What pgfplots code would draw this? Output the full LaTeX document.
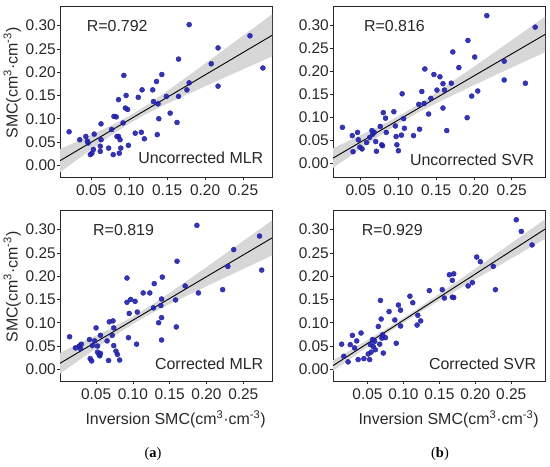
\documentclass[border=0pt]{standalone}
\usepackage{fontspec}
\setmainfont{Liberation Sans}
\newfontfamily\seriffont{Liberation Serif}
\usepackage{pgfplots}
\pgfplotsset{compat=1.18}
\definecolor{ptblue}{RGB}{32,32,170}
\definecolor{bandgray}{RGB}{215,215,215}
\definecolor{txt}{RGB}{40,40,40}
\pgfplotsset{panel/.style={
  scale only axis, width=212bp, height=171bp,
  ymin=-0.025, ymax=0.342,
  xtick={0.05,0.10,0.15,0.20,0.25}, ytick={0,0.05,0.10,0.15,0.20,0.25,0.30},
  tick pos=left, tick align=outside, major tick length=3bp,
  axis line style={draw=txt, line width=0.8bp},
  tick style={draw=txt, line width=0.6bp},
  ticklabel style={font=\fontsize{15.5}{15.5}\selectfont, text=txt},
  /pgf/number format/fixed, /pgf/number format/fixed zerofill,
  /pgf/number format/precision=2, /pgf/number format/assume math mode=true,
  yticklabel style={inner xsep=1bp},
  xticklabel style={inner ysep=2bp, yshift=-3bp},
  label style={font=\fontsize{16}{16}\selectfont, text=txt},
  ylabel style={at={(axis description cs:-0.225,0.55)}, anchor=center},
  xlabel style={at={(axis description cs:0.545,-0.222)}, anchor=center},
  clip=true,
}}
\newcommand{\unitlab}{(cm\textsuperscript{3}·cm\textsuperscript{-3})}
\begin{document}
\begin{tikzpicture}[x=1bp,y=1bp]
\useasboundingbox (0,0) rectangle (550,467);
% ---------------- Panel 1: Uncorrected MLR
\begin{axis}[panel, at={(60bp,290bp)}, anchor=south west, xmin=0.009, xmax=0.288,
  ylabel={SMC\unitlab}]
\addplot[fill=bandgray, draw=none] coordinates {
(0,0.0280)(0.05,0.0651)(0.075,0.0844)(0.10,0.1058)(0.125,0.1312)(0.15,0.1594)(0.20,0.2185)(0.25,0.2784)(0.30,0.3386)
(0.30,0.2424)(0.25,0.2062)(0.20,0.1697)(0.15,0.1324)(0.125,0.1124)(0.10,0.0896)(0.075,0.0628)(0.05,0.0339)(0,-0.0254)} -- cycle;
\addplot[black, line width=0.9bp] coordinates {(0,0.0013)(0.30,0.2905)};
\addplot[only marks, mark=*, mark size=2.5bp, color=ptblue, fill opacity=0.9] coordinates {
(0.021,0.072)(0.035,0.055)(0.043,0.062)(0.045,0.052)(0.046,0.048)(0.054,0.067)
(0.049,0.023)(0.051,0.026)(0.053,0.034)(0.062,0.041)(0.062,0.030)(0.063,0.055)
(0.063,0.089)(0.073,0.037)(0.077,0.077)(0.079,0.023)(0.080,0.105)(0.083,0.104)
(0.084,0.062)(0.086,0.141)(0.086,0.062)(0.087,0.026)(0.088,0.055)(0.089,0.037)
(0.092,0.091)(0.093,0.193)(0.095,0.123)(0.096,0.150)(0.098,0.120)(0.099,0.043)
(0.108,0.069)(0.112,0.146)(0.116,0.071)(0.117,0.162)(0.120,0.057)(0.131,0.162)
(0.132,0.137)(0.136,0.180)(0.137,0.066)(0.138,0.132)(0.139,0.100)(0.143,0.195)
(0.149,0.148)(0.154,0.112)(0.163,0.092)(0.165,0.228)(0.165,0.148)(0.176,0.162)
(0.179,0.302)(0.179,0.177)(0.208,0.218)(0.217,0.252)(0.217,0.170)(0.259,0.278)
(0.276,0.209)};
\node[anchor=west, font=\fontsize{16}{16}\selectfont, text=txt] at (rel axis cs:0.11,0.885) {R=0.792};
\node[anchor=east, font=\fontsize{16}{16}\selectfont, text=txt] at (rel axis cs:0.975,0.11) {Uncorrected MLR};
\end{axis}
% ---------------- Panel 2: Uncorrected SVR
\begin{axis}[panel, at={(333bp,290bp)}, anchor=south west, xmin=0.0135, xmax=0.294, ymin=-0.03]
\addplot[fill=bandgray, draw=none] coordinates {
(0,0.0220)(0.05,0.0608)(0.075,0.0807)(0.10,0.1023)(0.125,0.1266)(0.15,0.1535)(0.20,0.2100)(0.25,0.2677)(0.30,0.3256)
(0.30,0.2460)(0.25,0.2081)(0.20,0.1698)(0.15,0.1305)(0.125,0.1094)(0.10,0.0857)(0.075,0.0593)(0.05,0.0314)(0,-0.0258)} -- cycle;
\addplot[black, line width=0.9bp] coordinates {(0,-0.0019)(0.30,0.2858)};
\addplot[only marks, mark=*, mark size=2.5bp, color=ptblue, fill opacity=0.9] coordinates {
(0.026,0.078)(0.039,0.060)(0.046,0.067)(0.047,0.051)(0.040,0.025)(0.049,0.035)
(0.052,0.031)(0.058,0.045)(0.062,0.056)(0.065,0.071)(0.066,0.063)(0.068,0.067)
(0.070,0.047)(0.071,0.026)(0.076,0.080)(0.078,0.040)(0.079,0.038)(0.080,0.110)
(0.083,0.098)(0.084,0.067)(0.094,0.112)(0.096,0.081)(0.097,0.058)(0.098,0.040)
(0.100,0.027)(0.104,0.061)(0.105,0.151)(0.107,0.097)(0.108,0.076)(0.120,0.060)
(0.127,0.128)(0.128,0.074)(0.131,0.156)(0.134,0.130)(0.135,0.205)(0.140,0.107)
(0.143,0.141)(0.147,0.193)(0.151,0.159)(0.155,0.188)(0.159,0.173)(0.159,0.120)
(0.161,0.159)(0.164,0.071)(0.170,0.174)(0.172,0.242)(0.180,0.208)(0.191,0.099)
(0.192,0.267)(0.197,0.146)(0.201,0.231)(0.205,0.157)(0.217,0.321)(0.240,0.181)
(0.240,0.222)(0.268,0.174)(0.281,0.296)};
\node[anchor=west, font=\fontsize{16}{16}\selectfont, text=txt] at (rel axis cs:0.13,0.885) {R=0.816};
\node[anchor=east, font=\fontsize{16}{16}\selectfont, text=txt] at (rel axis cs:0.965,0.10) {Uncorrected SVR};
\end{axis}
% ---------------- Panel 3: Corrected MLR
\begin{axis}[panel, at={(60bp,86bp)}, anchor=south west, xmin=0.001, xmax=0.289,
  ylabel={SMC\unitlab}, xlabel={Inversion SMC\unitlab}]
\addplot[fill=bandgray, draw=none] coordinates {
(0,0.0346)(0.05,0.0724)(0.075,0.0922)(0.10,0.1136)(0.125,0.1378)(0.15,0.1642)(0.20,0.2195)(0.25,0.2757)(0.30,0.3321)
(0.30,0.2525)(0.25,0.2155)(0.20,0.1783)(0.15,0.1402)(0.125,0.1200)(0.10,0.0974)(0.075,0.0722)(0.05,0.0452)(0,-0.0104)} -- cycle;
\addplot[black, line width=0.9bp] coordinates {(0,0.0121)(0.30,0.2923)};
\addplot[only marks, mark=*, mark size=2.5bp, color=ptblue, fill opacity=0.9] coordinates {
(0.014,0.070)(0.022,0.046)(0.027,0.050)(0.030,0.054)(0.029,0.044)(0.041,0.064)
(0.042,0.023)(0.044,0.018)(0.045,0.051)(0.048,0.061)(0.050,0.089)(0.052,0.050)
(0.052,0.037)(0.054,0.032)(0.055,0.029)(0.056,0.073)(0.056,0.034)(0.065,0.061)
(0.067,0.019)(0.068,0.102)(0.072,0.073)(0.073,0.104)(0.074,0.089)(0.074,0.051)
(0.077,0.039)(0.079,0.032)(0.082,0.020)(0.092,0.196)(0.092,0.144)(0.094,0.068)
(0.095,0.120)(0.097,0.150)(0.103,0.146)(0.106,0.123)(0.105,0.054)(0.114,0.164)
(0.123,0.164)(0.128,0.132)(0.129,0.184)(0.135,0.100)(0.138,0.137)(0.139,0.151)
(0.139,0.063)(0.139,0.111)(0.140,0.198)(0.158,0.149)(0.159,0.091)(0.160,0.232)
(0.171,0.179)(0.187,0.309)(0.189,0.164)(0.222,0.171)(0.229,0.221)(0.237,0.257)
(0.272,0.286)(0.275,0.213)};
\node[anchor=west, font=\fontsize{16}{16}\selectfont, text=txt] at (rel axis cs:0.14,0.885) {R=0.819};
\node[anchor=east, font=\fontsize{16}{16}\selectfont, text=txt] at (rel axis cs:0.975,0.10) {Corrected MLR};
\end{axis}
% ---------------- Panel 4: Corrected SVR
\begin{axis}[panel, at={(333bp,86bp)}, anchor=south west, xmin=0.002, xmax=0.297,
  xlabel={Inversion SMC\unitlab}]
\addplot[fill=bandgray, draw=none] coordinates {
(0,0.0175)(0.05,0.0629)(0.075,0.0861)(0.10,0.1103)(0.125,0.1357)(0.15,0.1622)(0.20,0.2161)(0.25,0.2706)(0.30,0.3252)
(0.30,0.2826)(0.25,0.2380)(0.20,0.1931)(0.15,0.1478)(0.125,0.1245)(0.10,0.1003)(0.075,0.0749)(0.05,0.0485)(0,-0.0055)} -- cycle;
\addplot[black, line width=0.9bp] coordinates {(0,0.006)(0.30,0.3039)};
\addplot[only marks, mark=*, mark size=2.5bp, color=ptblue, fill opacity=0.9] coordinates {
(0.014,0.054)(0.017,0.028)(0.023,0.016)(0.026,0.053)(0.029,0.073)(0.032,0.046)
(0.035,0.061)(0.037,0.021)(0.041,0.078)(0.045,0.023)(0.051,0.033)(0.053,0.021)
(0.054,0.053)(0.055,0.037)(0.057,0.064)(0.058,0.049)(0.060,0.060)(0.061,0.042)
(0.065,0.092)(0.067,0.054)(0.068,0.148)(0.069,0.108)(0.070,0.067)(0.071,0.074)
(0.072,0.035)(0.075,0.068)(0.080,0.124)(0.088,0.106)(0.090,0.056)(0.093,0.138)
(0.096,0.127)(0.096,0.093)(0.109,0.157)(0.113,0.143)(0.119,0.095)(0.120,0.116)
(0.124,0.104)(0.136,0.169)(0.154,0.171)(0.157,0.153)(0.164,0.203)(0.168,0.191)
(0.168,0.155)(0.170,0.205)(0.170,0.154)(0.190,0.179)(0.196,0.186)(0.202,0.241)
(0.207,0.231)(0.225,0.221)(0.228,0.171)(0.257,0.321)(0.264,0.296)(0.279,0.267)};
\node[anchor=west, font=\fontsize{16}{16}\selectfont, text=txt] at (rel axis cs:0.12,0.885) {R=0.929};
\node[anchor=east, font=\fontsize{16}{16}\selectfont, text=txt] at (rel axis cs:0.975,0.10) {Corrected SVR};
\end{axis}
\node[font=\seriffont\fontsize{14.5}{14.5}\selectfont] at (153,13) {(\textbf{a})};
\node[font=\seriffont\fontsize{14.5}{14.5}\selectfont] at (440,13) {(\textbf{b})};
\end{tikzpicture}
\end{document}
